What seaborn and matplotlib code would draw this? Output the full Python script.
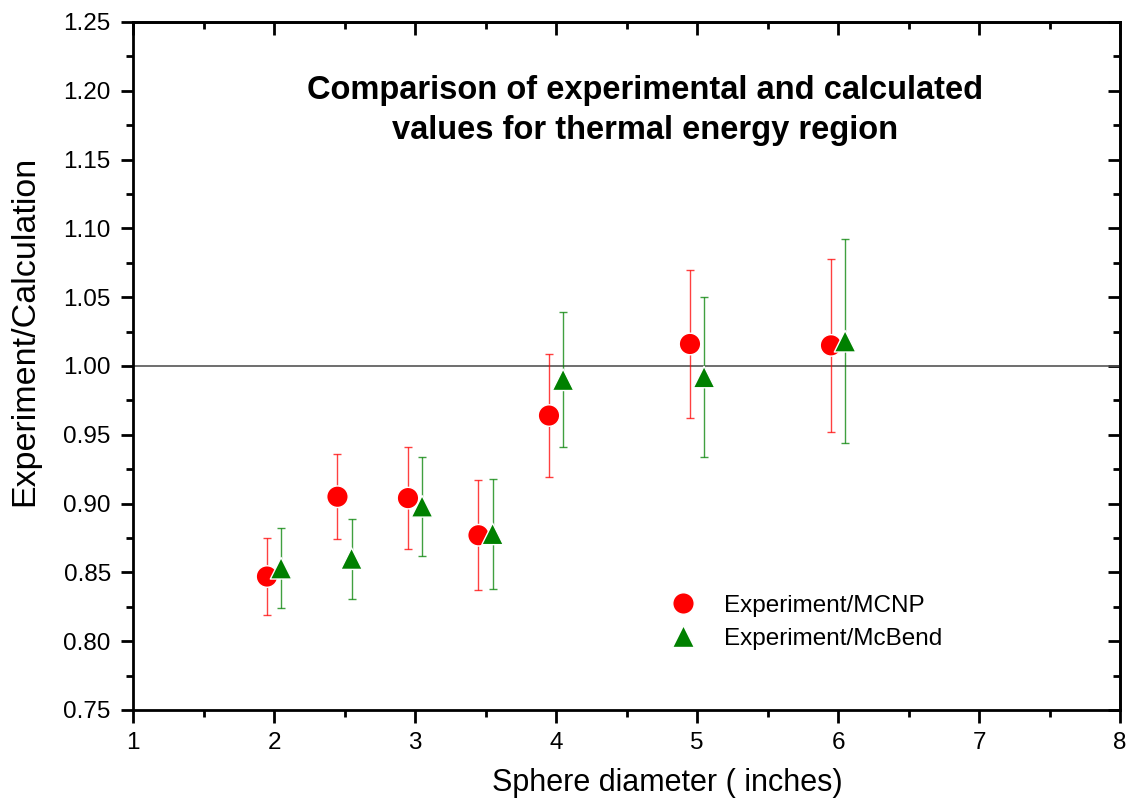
import numpy as np
import pandas as pd
import matplotlib
matplotlib.use("Agg")
import matplotlib.pyplot as plt
import seaborn as sns
from matplotlib.ticker import MultipleLocator

# data
diam_mcnp = [1.95, 2.45, 2.95, 3.45, 3.95, 4.95, 5.95]
ratio_mcnp = [0.847, 0.905, 0.904, 0.877, 0.964, 1.016, 1.015]
err_mcnp = [0.028, 0.031, 0.037, 0.040, 0.045, 0.054, 0.063]

diam_mcbend = [2.05, 2.55, 3.05, 3.55, 4.05, 5.05, 6.05]
ratio_mcbend = [0.853, 0.860, 0.898, 0.878, 0.990, 0.992, 1.018]
err_mcbend = [0.029, 0.029, 0.036, 0.040, 0.049, 0.058, 0.074]

labels = ["Experiment/MCNP", "Experiment/McBend"]

df = pd.concat([
    pd.DataFrame({"x": diam_mcnp, "y": ratio_mcnp, "err": err_mcnp, "series": labels[0]}),
    pd.DataFrame({"x": diam_mcbend, "y": ratio_mcbend, "err": err_mcbend, "series": labels[1]}),
])

sns.set_style("ticks")
plt.rcParams["font.family"] = ["Liberation Sans", "DejaVu Sans"]
plt.rcParams["text.color"] = "black"
plt.rcParams["axes.labelcolor"] = "black"
plt.rcParams["xtick.color"] = "black"
plt.rcParams["ytick.color"] = "black"

fig = plt.figure(figsize=(11.3, 8), dpi=100)
ax = fig.add_axes([0.1177, 0.1125, 0.8735, 0.86])

colors = {labels[0]: "#ff0000", labels[1]: "#008000"}
markers = {labels[0]: "o", labels[1]: "^"}

# error bars
for name, grp in df.groupby("series"):
    ax.errorbar(grp["x"], grp["y"], yerr=grp["err"], fmt="none",
                ecolor=colors[name], elinewidth=1.0, capsize=3, capthick=1.0,
                alpha=0.75, zorder=2)

ax.axhline(1.0, color="#555555", lw=1.2, zorder=1)

sns.scatterplot(data=df, x="x", y="y", hue="series", style="series",
                palette=colors, markers=markers, s=240, edgecolor="white",
                linewidth=1.0, ax=ax, zorder=3)

ax.set_xlim(1, 8)
ax.set_ylim(0.75, 1.25)
ax.xaxis.set_major_locator(MultipleLocator(1))
ax.xaxis.set_minor_locator(MultipleLocator(0.5))
ax.yaxis.set_major_locator(MultipleLocator(0.05))
ax.yaxis.set_minor_locator(MultipleLocator(0.025))
ax.yaxis.set_major_formatter(matplotlib.ticker.FormatStrFormatter("%.2f"))

for s in ax.spines.values():
    s.set_linewidth(2)
    s.set_color("black")

ax.tick_params(which="both", direction="out", width=2, labelsize=17.5,
               top=False, right=False, pad=7)
ax.tick_params(which="major", length=9)
ax.tick_params(which="minor", length=5)

# inward ticks on the top and right frame
ax_top = ax.secondary_xaxis("top")
ax_top.xaxis.set_major_locator(MultipleLocator(1))
ax_top.xaxis.set_minor_locator(MultipleLocator(0.5))
ax_top.tick_params(which="both", direction="in", width=2, labeltop=False)
ax_top.tick_params(which="major", length=9)
ax_top.tick_params(which="minor", length=5)
ax_top.spines["top"].set_linewidth(2)
ax_right = ax.secondary_yaxis("right")
ax_right.yaxis.set_major_locator(MultipleLocator(0.05))
ax_right.yaxis.set_minor_locator(MultipleLocator(0.025))
ax_right.tick_params(which="both", direction="in", width=2, labelright=False)
ax_right.tick_params(which="major", length=9)
ax_right.tick_params(which="minor", length=5)
ax_right.spines["right"].set_linewidth(2)

ax.set_xlabel("Sphere diameter ( inches)", fontsize=22)
ax.set_ylabel("Experiment/Calculation", fontsize=24.5)
ax.xaxis.set_label_coords(0.541, -0.085)
ax.yaxis.set_label_coords(-0.094, 0.551)

ax.text(0.519, 0.871, "Comparison of experimental and calculated\nvalues for thermal energy region",
        transform=ax.transAxes, ha="center", va="center", fontsize=23.5,
        fontweight="bold", linespacing=1.38)

leg = ax.legend(loc="lower left", bbox_to_anchor=(0.51, 0.056), frameon=False,
                fontsize=17.5, handletextpad=0.7, labelspacing=0.45, markerscale=1.0)

fig.savefig("out.png", dpi=100)
